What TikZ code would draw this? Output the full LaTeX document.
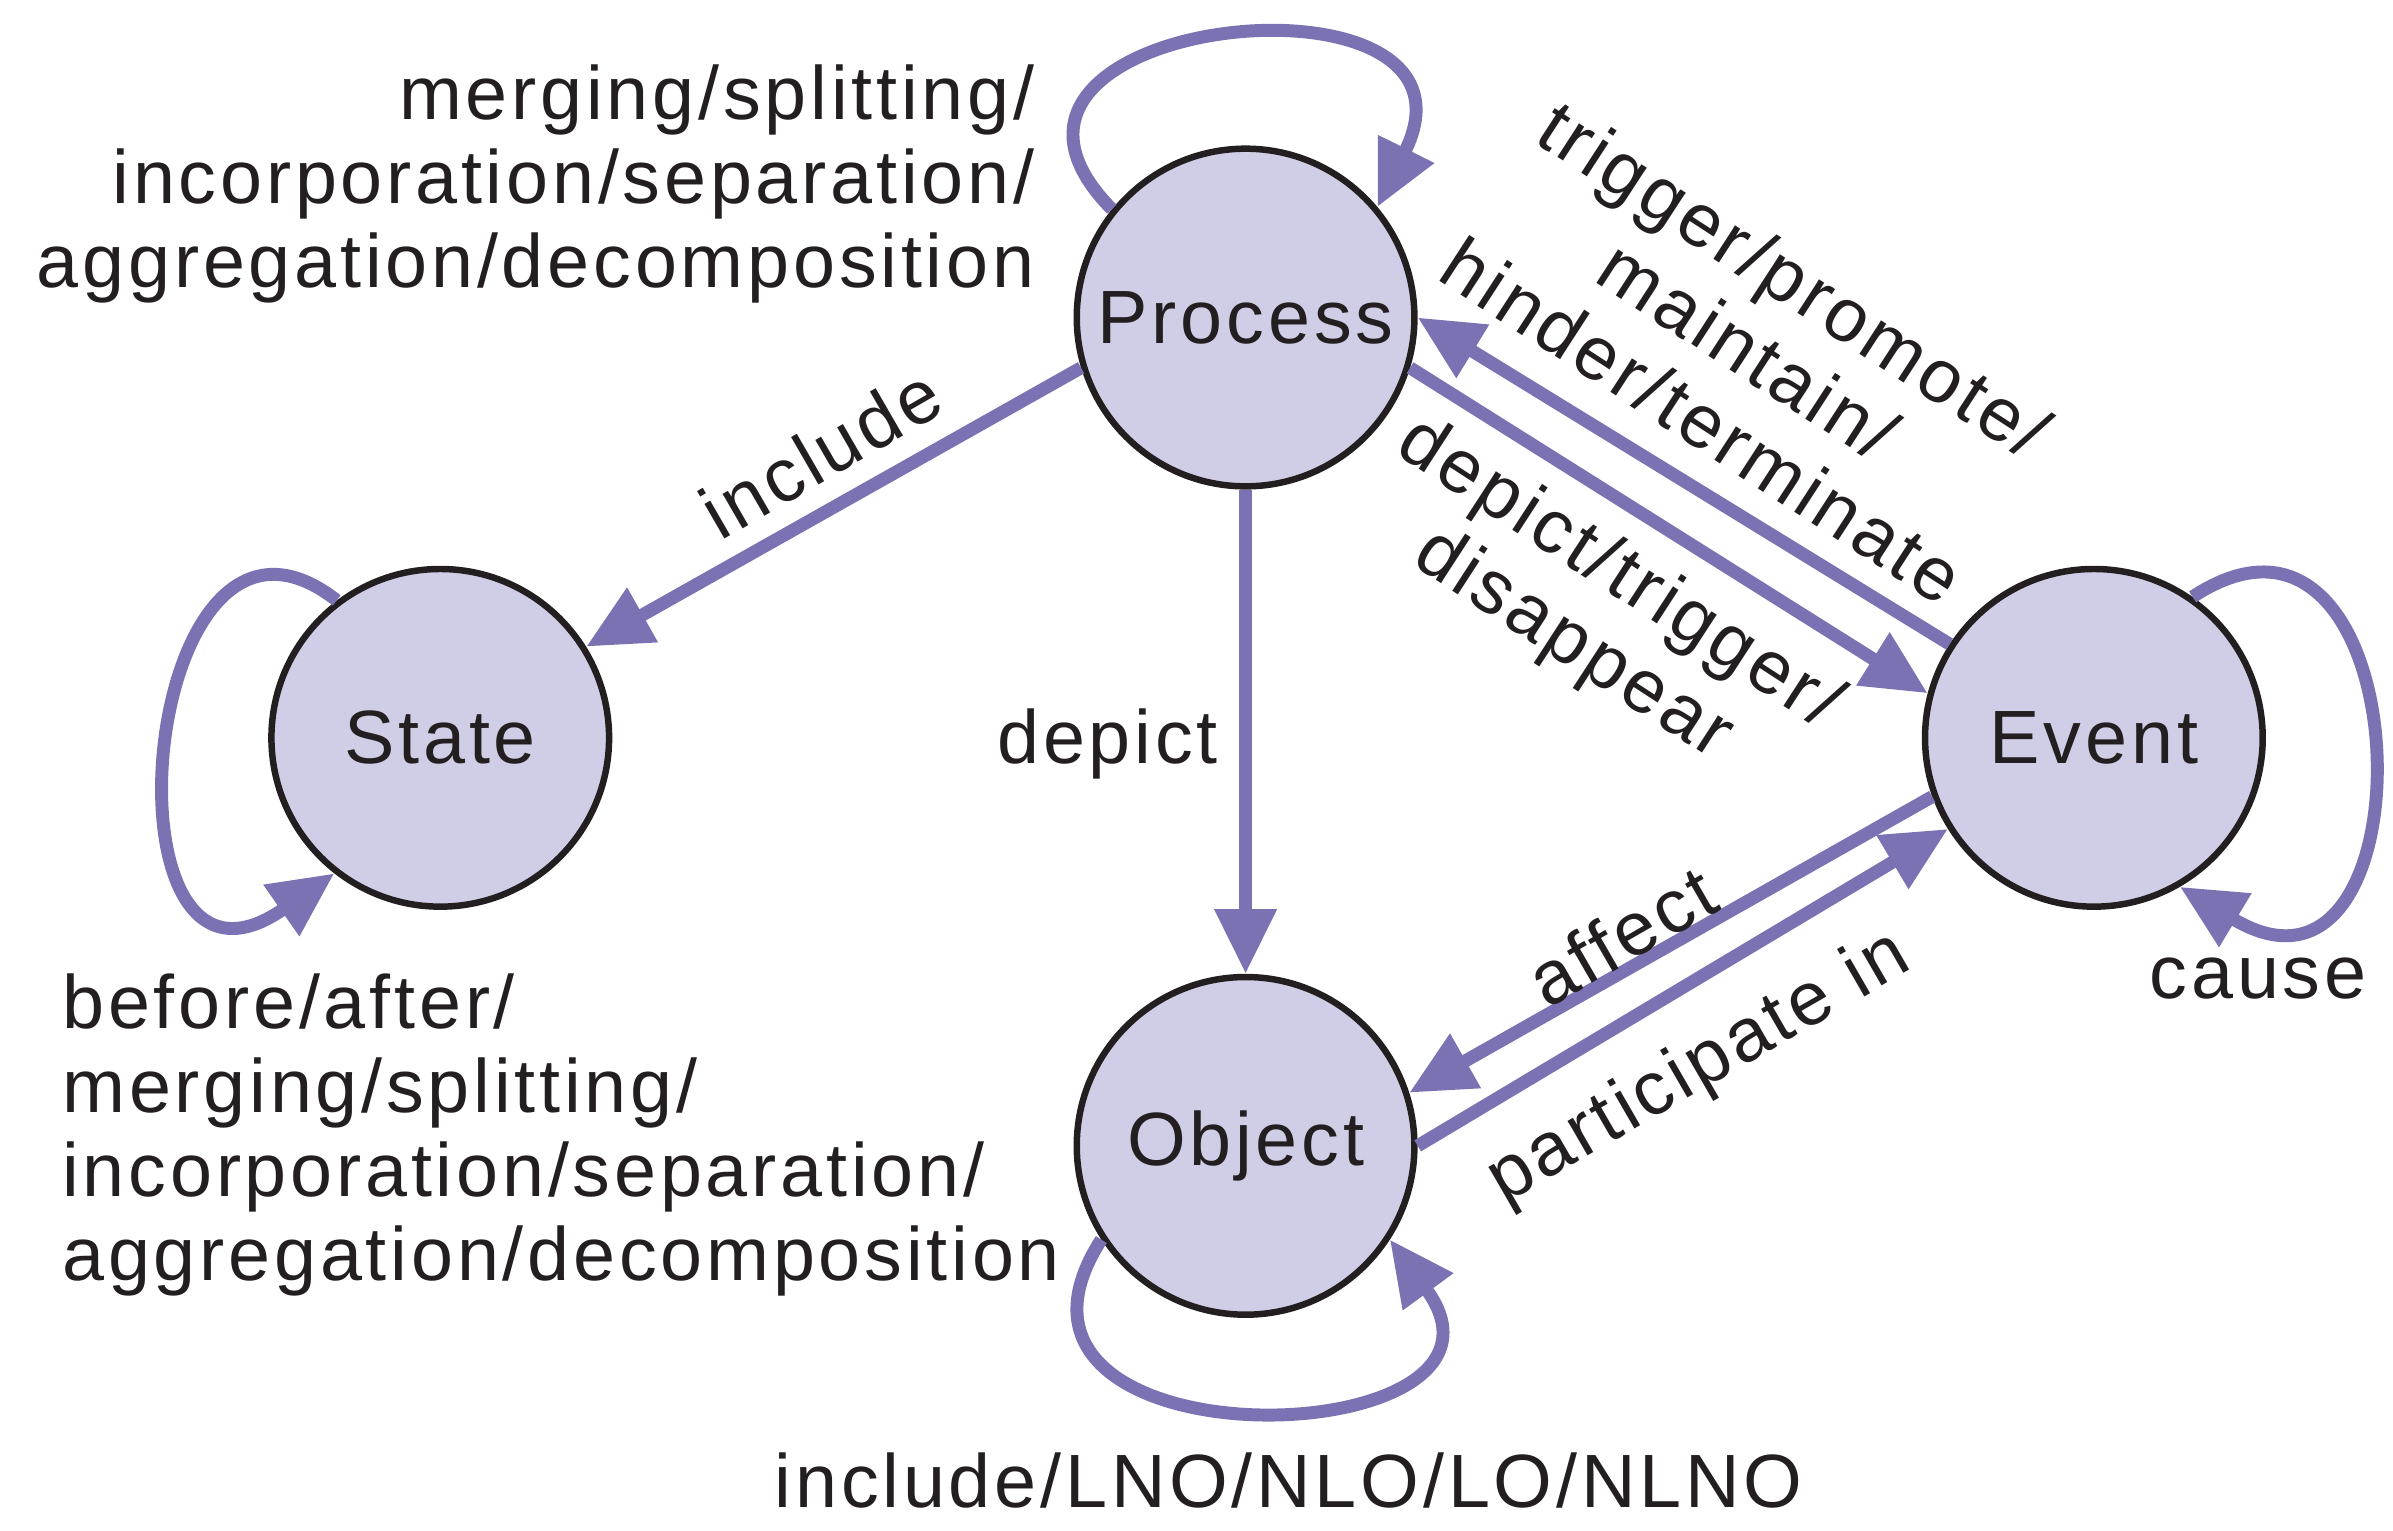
\documentclass[tikz,border=0pt]{standalone}
\usepackage{fontspec}
\setmainfont[LetterSpace=5]{Liberation Sans}
\usetikzlibrary{arrows.meta}
\definecolor{edge}{HTML}{7B72B4}
\definecolor{fillc}{HTML}{D0CDE6}
\definecolor{txt}{HTML}{231F20}
\begin{document}
\begin{tikzpicture}[x=0.01cm,y=-0.01cm,
  st/.style={circle,draw=txt,line width=1.2pt,fill=fillc,minimum size=2.2cm,inner sep=0pt,text=txt,font=\fontsize{14}{16}\selectfont},
  ar/.style={draw=edge,line width=2.4pt,-{Triangle[length=12pt,width=11pt]}},
  lb/.style={text=txt,font=\fontsize{14}{15.6}\selectfont,inner sep=0pt}]
\useasboundingbox (0,0) rectangle (1560,998);
\node[st] (P) at (812,207) {Process};
\node[st] (S) at (287,481) {State};
\node[st] (E) at (1365,481) {Event};
\node[st] (O) at (812,747) {Object};
\draw[ar] (P.197) -- (S.32);
\draw[ar] (P) -- (O);
\draw[ar] (P.-17) -- (E.165);
\draw[ar] (E.147) -- (P.0);
\draw[ar] (E.-160) -- (O.18);
\draw[ar] (O.0) -- (E.-148);
\draw[ar] (P.141) .. controls (600,10) and (980,-30) .. (P.40);
\draw[ar] (S.127) .. controls (90,290) and (60,680) .. (S.-128);
\draw[ar] (E.55) .. controls (1580,290) and (1590,680) .. (E.-60);
\draw[ar] (O.-147) .. controls (620,960) and (1010,950) .. (O.-33);
\node[lb,align=right,anchor=east] (l1) at (675,120) {merging/splitting/\\incorporation/separation/\\aggregation/decomposition};
\node[lb,align=left,anchor=west] (l2) at (40,740) {before/after/\\merging/splitting/\\incorporation/separation/\\aggregation/decomposition};
\node[lb] (l3) at (840,965) {include/LNO/NLO/LO/NLNO};
\node[lb] (l4) at (1472,638) {cause};
\node[lb] (l5) at (722,485) {depict};
\node[lb,rotate=30] (l6) at (535,295) {include};
\node[lb,rotate=30] (l7) at (1057,610) {affect};
\node[lb,rotate=30] (l8) at (1108,697) {participate in};
\node[lb,rotate=-33,align=center] (l9) at (1140,228) {trigger/promote/\\maintain/\\hinder/terminate};
\node[lb,rotate=-33,align=center] (l10) at (1040,398) {depict/trigger/\\disappear};
\end{tikzpicture}
\end{document}
